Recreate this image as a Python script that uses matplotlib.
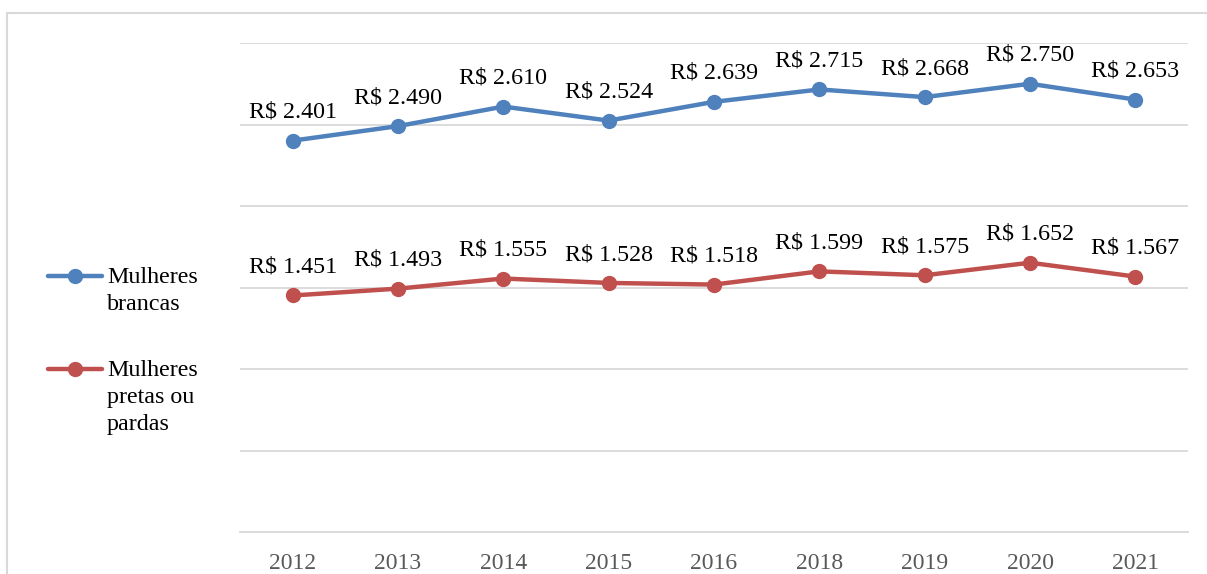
import matplotlib
matplotlib.use("Agg")
import matplotlib.pyplot as plt
from matplotlib.lines import Line2D

years = ["2012", "2013", "2014", "2015", "2016", "2018", "2019", "2020", "2021"]
brancas = [2401, 2490, 2610, 2524, 2639, 2715, 2668, 2750, 2653]
pretas = [1451, 1493, 1555, 1528, 1518, 1599, 1575, 1652, 1567]

BLUE = "#4F81BD"
RED = "#C0504D"
GRID = "#D9D9D9"

plt.rcParams['font.family'] = ['Liberation Serif', 'DejaVu Serif']

W, H = 1207, 574
fig = plt.figure(figsize=(W / 100, H / 100), dpi=100)
ax = fig.add_axes([240 / W, 1 - 532 / H, (1188 - 240) / W, (532 - 43) / H])

x = list(range(len(years)))

def fmt(v):
    return "R$ " + f"{v:,}".replace(",", ".")

for vals, col in [(brancas, BLUE), (pretas, RED)]:
    ax.plot(x, vals, color=col, lw=3.2, marker="o", ms=10, zorder=3,
            solid_capstyle="round")
    for xi, v in zip(x, vals):
        ax.annotate(fmt(v), (xi, v), xytext=(0, 16.5), textcoords="offset points",
                    ha="center", va="baseline", fontsize=17.3, color="black")

ax.set_xlim(-0.5, len(years) - 0.5)
ax.set_ylim(0, 3000)
ax.set_yticks(range(0, 3001, 500))
ax.yaxis.grid(True, color=GRID, lw=1.3)
ax.set_axisbelow(True)
ax.set_yticklabels([])
ax.tick_params(axis="y", length=0)
ax.set_xticks(x)
ax.set_xticklabels(years, fontsize=17, color="#595959")
ax.tick_params(axis="x", length=0, pad=15)
for s in ["top", "right", "left"]:
    ax.spines[s].set_visible(False)
ax.spines["bottom"].set_color(GRID)
ax.spines["bottom"].set_linewidth(1.3)

# legend drawn by hand at the left
def px(xp, yp):
    return xp / W, 1 - yp / H

for yline, col, lines in [(276, BLUE, ["Mulheres", "brancas"]),
                          (369, RED, ["Mulheres", "pretas ou", "pardas"])]:
    x0, y0 = px(48, yline)
    x1, _ = px(102, yline)
    fig.add_artist(Line2D([x0, x1], [y0, y0], color=col, lw=3.2,
                          solid_capstyle="round"))
    xm, _ = px(75, yline)
    fig.add_artist(Line2D([xm], [y0], color=col, marker="o", ms=10))
    tx, ty = px(107, yline - 9)
    fig.text(tx, ty, "\n".join(lines), fontsize=17.3, va="top", ha="left",
             linespacing=1.38)

# outer border (top and left edges visible)
bx, by = px(7, 13)
fig.add_artist(Line2D([bx, bx], [0, by], color=GRID, lw=1.5))
fig.add_artist(Line2D([bx, 1], [by, by], color=GRID, lw=1.5))

fig.savefig("out.png", dpi=100)
